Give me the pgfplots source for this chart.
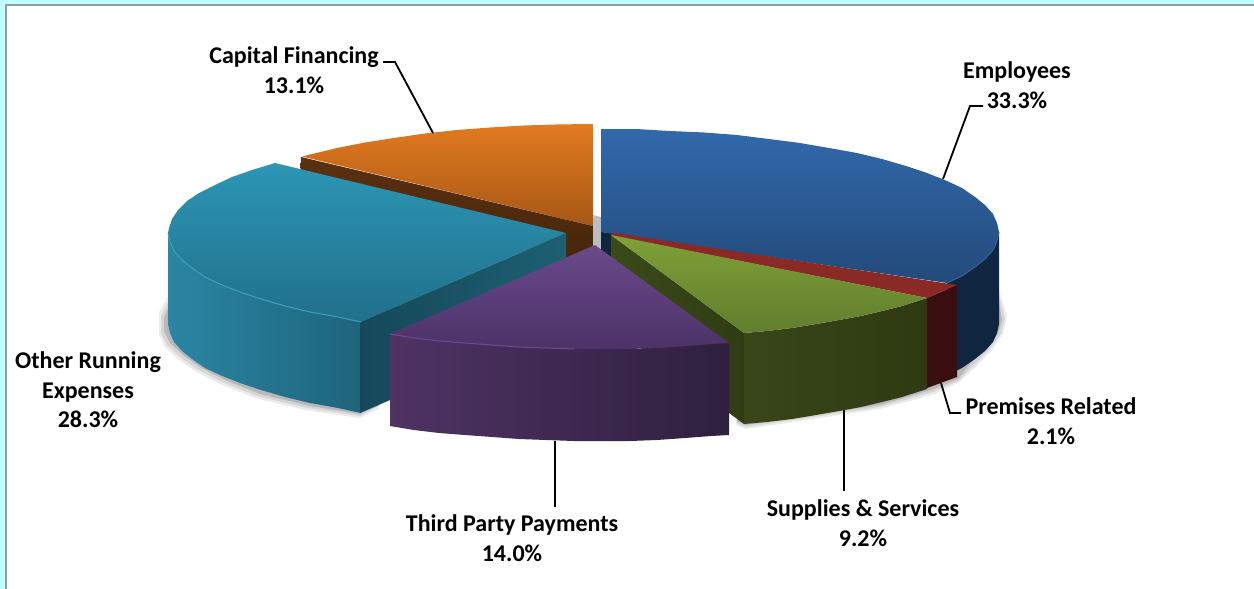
\documentclass[border=0pt]{standalone}
\usepackage{fontspec}
\setmainfont{Carlito}
\usepackage{pgfplots}
\pgfplotsset{compat=1.18}
\definecolor{framecyan}{HTML}{BFFFFF}
\definecolor{framegray}{HTML}{959C9C}
\definecolor{shadowgray}{HTML}{BDBDBD}
\tikzset{lbl/.style={font=\fontsize{24}{29.5}\selectfont\bfseries, align=center, text=black, inner sep=0pt}}
\begin{document}
\begin{tikzpicture}
\begin{axis}[
  scale only axis, width=1254pt, height=589pt,
  xmin=0, xmax=1254, ymin=0, ymax=589, y dir=reverse,
  axis lines=none, clip=true,
]
% frame
\addplot[draw=none, fill=framecyan] coordinates {(0,0)(1254,0)(1254,589)(0,589)} --cycle;
\addplot[draw=none, fill=framegray] coordinates {(5,4)(1254,4)(1254,589)(5,589)} --cycle;
\addplot[draw=none, fill=white] coordinates {(7,6)(1254,6)(1254,589)(7,589)} --cycle;

% soft shadows under the slices
\addplot[draw=none, fill=black!8] coordinates {(168,296)(159,312)(159,334)(165,347)(178,359)(195,371)(220,384)(255,398)(305,410)(360,418)(380,408)(200,300)} --cycle;
\addplot[draw=none, fill=black!16] coordinates {(168,302)(161,316)(161,333)(167,345)(180,357)(197,369)(222,382)(257,396)(307,408)(360,416)(380,405)(200,300)} --cycle;
\addplot[draw=none, fill=black!28] coordinates {(168,308)(164,318)(164,331)(170,343)(183,355)(200,367)(225,380)(260,394)(310,406)(360,414)(380,405)(200,300)} --cycle;
\addplot[draw=none, fill=black!8] coordinates {(999,290)(1007,316)(1003,334)(992,350)(977,366)(958,383)(935,394)(880,409)(800,421)(746,429)(736,425)(800,350)} --cycle;
\addplot[draw=none, fill=black!16] coordinates {(999,296)(1005,318)(1001,334)(990,349)(975,364)(958,381)(933,392)(880,407)(800,419)(746,427)(736,423)(800,350)} --cycle;
\addplot[draw=none, fill=black!28] coordinates {(999,302)(1002,320)(998,334)(987,348)(972,362)(958,379)(931,390)(880,405)(800,417)(746,425)(736,421)(800,350)} --cycle;

% capital financing
\addplot[draw=none, top color={rgb,255:red,226;green,122;blue,32}, bottom color={rgb,255:red,166;green,88;blue,22}] coordinates {(593,124)(558,124.4)(524,125.5)(490,127.5)(457,130)(425,133.5)(394,138)(365,142.5)(337,148)(302,156.5)(593,226)} --cycle;
\addplot[draw=none, top color={rgb,255:red,90;green,48;blue,16}, bottom color={rgb,255:red,72;green,38;blue,10}] coordinates {(301,157)(593,226)(593,250)(566,262)(300,180)} --cycle;

% gap behind the centre
\addplot[draw=none, fill=shadowgray] coordinates {(593,215)(601,217)(601,250)(595,246)(593,246)} --cycle;

% employees
\addplot[draw=none, fill={rgb,255:red,16;green,37;blue,63}] coordinates {(999,232)(997,241)(993,250)(985,259)(975,267)(962,276)(947,283)(947,375)(962,368)(975,359)(985,351)(993,342)(997,333)(999,324)} --cycle;
\addplot[draw=none, fill={rgb,255:red,16;green,37;blue,63}] coordinates {(601,232)(612,233)(612,262)(601,262)} --cycle;
\addplot[draw=none, top color={rgb,255:red,49;green,105;blue,172}, bottom color={rgb,255:red,35;green,74;blue,122}] coordinates {(601,129)(636,129)(670,131)(704,132.5)(737,135)(769,139)(800,143)(829,148)(857,153)(882,159)(906,166)(927,173)(946,180.5)(962,188)(975,197)(985,205)(993,214)(997,223)(999,232)(997,241)(993,250)(985,259)(975,267)(962,276)(947,283)(601,232)} --cycle;
\addplot[color={rgb,255:red,52;green,100;blue,155}, line width=1pt] coordinates {(999,232)(997,241)(993,250)(985,259)(975,267)(962,276)(947,283)};

% other running expenses
\addplot[draw=none, left color={rgb,255:red,42;green,134;blue,164}, right color={rgb,255:red,30;green,100;blue,124}] coordinates {(168,233)(170,242)(174,251)(182,260)(192,268)(205,277)(221,284.5)(240,292)(261,299)(285,306)(310,312)(338,317)(361,322)(361,413)(338,408)(310,403)(285,397)(261,390)(240,383)(221,375.5)(205,368)(192,359)(182,351)(174,342)(170,333)(168,324)} --cycle;
\addplot[draw=none, left color={rgb,255:red,21;green,72;blue,90}, right color={rgb,255:red,29;green,96;blue,114}] coordinates {(360,322)(566,233)(566,324)(360,413)} --cycle;
\addplot[draw=none, top color={rgb,255:red,44;green,150;blue,181}, bottom color={rgb,255:red,32;green,112;blue,138}] coordinates {(275,163)(252,170)(232,177)(215,185)(199,193)(187,201)(178,210)(172,219)(169,228)(168,233)(170,242)(174,251)(182,260)(192,268)(205,277)(221,284.5)(240,292)(261,299)(285,306)(310,312)(338,317)(361,322)(566,233)} --cycle;
\addplot[color={rgb,255:red,58;green,160;blue,192}, line width=1pt] coordinates {(168,233)(170,242)(174,251)(182,260)(192,268)(205,277)(221,284.5)(240,292)(261,299)(285,306)(310,312)(338,317)(361,322)};

% premises related
\addplot[draw=none, fill={rgb,255:red,58;green,14;blue,14}] coordinates {(927,298)(957,285)(957,377)(927,388)} --cycle;
\addplot[draw=none, fill={rgb,255:red,138;green,42;blue,38}] coordinates {(612,232.5)(957,285)(927,298)(611,235.5)} --cycle;

% supplies and services
\addplot[draw=none, left color={rgb,255:red,58;green,74;blue,24}, right color={rgb,255:red,48;green,60;blue,20}] coordinates {(611,235)(744,333)(744,424)(611,326)} --cycle;
\addplot[draw=none, left color={rgb,255:red,56;green,70;blue,24}, right color={rgb,255:red,47;green,58;blue,18}] coordinates {(744,333)(767,331)(792,328)(816,324)(839,320)(861,316)(882,311)(902,306)(927,298)(927,389)(902,397)(882,402)(861,407)(839,411)(816,415)(792,419)(767,422)(744,424)} --cycle;
\addplot[draw=none, top color={rgb,255:red,128;green,160;blue,54}, bottom color={rgb,255:red,96;green,126;blue,46}] coordinates {(611,235)(927,298)(902,306)(882,311)(861,316)(839,320)(816,324)(792,328)(767,331)(744,333)} --cycle;

% third party payments
\addplot[draw=none, left color={rgb,255:red,78;green,51;blue,99}, right color={rgb,255:red,47;green,32;blue,63}] coordinates {(390,334)(414,338)(439,341)(465,343)(492,345)(519,347)(546,348)(574,349)(602,349)(630,349)(657,348)(685,346)(711,344)(729,343)(729,435)(711,436)(685,438)(657,440)(630,441)(602,441)(574,441)(546,440)(519,439)(492,437)(465,435)(439,433)(414,430)(390,426)} --cycle;
\addplot[draw=none, top color={rgb,255:red,106;green,74;blue,138}, bottom color={rgb,255:red,76;green,50;blue,104}] coordinates {(595,245)(729,343)(711,344)(685,346)(657,348)(630,349)(602,349)(574,349)(546,348)(519,347)(492,345)(465,343)(439,341)(414,338)(390,334)} --cycle;
\addplot[color={rgb,255:red,112;green,72;blue,148}, line width=1pt] coordinates {(390,334)(414,338)(439,341)(465,343)(492,345)(519,347)(546,348)(574,349)};

% leader lines
\addplot[black, line width=1.8pt] coordinates {(383,62)(395,62)(433,133)};
\addplot[black, line width=1.8pt] coordinates {(983,106)(970,106)(943,179)};
\addplot[black, line width=1.8pt] coordinates {(941,383)(950,413)(961,413)};
\addplot[black, line width=1.8pt] coordinates {(844,410)(844,491)};
\addplot[black, line width=1.8pt] coordinates {(555,441)(555,507)};

% labels
\node[lbl] at (axis cs:294,70) {Capital Financing\\13.1\%};
\node[lbl] at (axis cs:1017,85) {Employees\\33.3\%};
\node[lbl] at (axis cs:1051,421) {Premises Related\\2.1\%};
\node[lbl] at (axis cs:863,523) {Supplies \& Services\\9.2\%};
\node[lbl] at (axis cs:512,538) {Third Party Payments\\14.0\%};
\node[lbl] at (axis cs:88,390) {Other Running\\Expenses\\28.3\%};
\end{axis}
\end{tikzpicture}
\end{document}
